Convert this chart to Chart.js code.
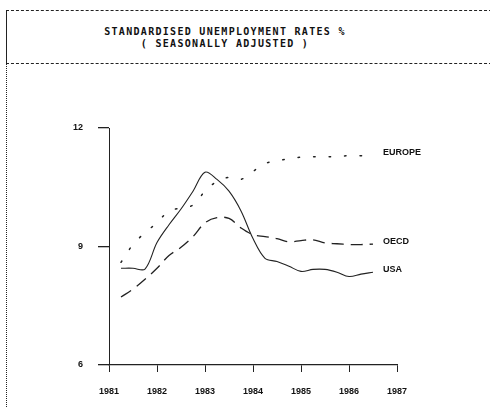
<!DOCTYPE html>
<html>
<head>
<meta charset="utf-8">
<script src="https://cdn.jsdelivr.net/npm/chart.js@4"></script>
<style>
  body { margin: 0; background: #fff; }
  #wrap { position: relative; width: 490px; height: 407px; }
  #frame { position: absolute; left: 6px; top: 10px; width: 490px; height: 52px;
           border-top: 1px dashed #222; border-bottom: 1px dashed #222; border-left: 1px solid #222; }
  #leftline { position: absolute; left: 6px; top: 62px; height: 345px; border-left: 1px dotted #222; }
  .title { position: absolute; left: 0; width: 450px; text-align: center;
           font: bold 10px "DejaVu Sans Mono", monospace; letter-spacing: 1.3px; color: #111; }
  canvas { position: absolute; left: 0; top: 0; }
</style>
</head>
<body>
<div id="wrap">
  <div id="frame"></div>
  <div id="leftline"></div>
  <div class="title" style="top:26px">STANDARDISED UNEMPLOYMENT RATES %</div>
  <div class="title" style="top:38px">( SEASONALLY ADJUSTED )</div>
  <canvas id="chart" width="490" height="407"></canvas>
</div>
<script>
// quarterly points, 1981 Q2 .. 1986 Q3
const quarters = [1981.25, 1981.5, 1981.75, 1982, 1982.25, 1982.5, 1982.75, 1983,
  1983.25, 1983.5, 1983.75, 1984, 1984.25, 1984.5, 1984.75, 1985,
  1985.25, 1985.5, 1985.75, 1986, 1986.25, 1986.5];

const europe = [8.6, 9.05, 9.35, 9.6, 9.9, 9.97, 10.05, 10.4,
  10.65, 10.75, 10.7, 10.9, 11.1, 11.17, 11.22, 11.26,
  11.27, 11.27, 11.28, 11.3, 11.3, 11.3];

const oecd = [7.72, 7.92, 8.17, 8.45, 8.77, 8.98, 9.25, 9.6,
  9.73, 9.71, 9.47, 9.3, 9.25, 9.2, 9.12, 9.15,
  9.17, 9.09, 9.07, 9.05, 9.05, 9.06];

const usa = [8.45, 8.45, 8.43, 9.1, 9.55, 9.95, 10.4, 10.88,
  10.7, 10.4, 9.9, 9.2, 8.7, 8.62, 8.5, 8.37,
  8.42, 8.42, 8.35, 8.24, 8.3, 8.35];

const seriesNames = ['EUROPE', 'OECD', 'USA'];
const yTicks = [6, 9, 12];
const xYears = [1981, 1982, 1983, 1984, 1985, 1986, 1987];

const toPoints = vals => vals.map((v, i) => ({ x: quarters[i], y: v }));

// names written at the end of each line
const endLabels = {
  id: 'endLabels',
  afterDatasetsDraw(chart) {
    const ctx = chart.ctx;
    ctx.save();
    ctx.font = 'bold 9px "Liberation Sans", sans-serif';
    ctx.fillStyle = '#111';
    ctx.textBaseline = 'middle';
    chart.data.datasets.forEach((ds, i) => {
      const meta = chart.getDatasetMeta(i);
      const last = meta.data[meta.data.length - 1];
      ctx.fillText(ds.label, last.x + 10, last.y - 3);
    });
    ctx.restore();
  }
};

new Chart(document.getElementById('chart'), {
  type: 'line',
  data: {
    datasets: [
      { label: seriesNames[0], data: toPoints(europe), borderColor: '#222',
        borderWidth: 1.5, borderDash: [1.5, 14], borderCapStyle: 'round' },
      { label: seriesNames[1], data: toPoints(oecd), borderColor: '#222',
        borderWidth: 1.3, borderDash: [12, 7] },
      { label: seriesNames[2], data: toPoints(usa), borderColor: '#222',
        borderWidth: 1.1 }
    ]
  },
  options: {
    responsive: false,
    animation: false,
    layout: { padding: { left: 59, right: 93, top: 128, bottom: 0 } },
    elements: { point: { radius: 0 }, line: { tension: 0.35 } },
    plugins: { legend: { display: false }, tooltip: { enabled: false } },
    scales: {
      x: {
        type: 'linear', min: 1981, max: 1987,
        afterBuildTicks: s => { s.ticks = xYears.map(v => ({ value: v })); },
        afterFit: s => { s.height = 42; },
        grid: { drawOnChartArea: false, tickLength: 7, color: '#222', lineWidth: 1 },
        border: { color: '#222', width: 1.3, dash: [3, 1] },
        ticks: { padding: 14, color: '#111', font: { family: 'Liberation Sans', size: 9, weight: 'bold' },
                 callback: v => String(v), maxRotation: 0 }
      },
      y: {
        min: 6, max: 12,
        afterBuildTicks: s => { s.ticks = yTicks.map(v => ({ value: v })); },
        afterFit: s => { s.width = 50; },
        grid: { drawOnChartArea: false, tickLength: 11, color: '#222', lineWidth: 1.3 },
        border: { color: '#222', width: 1, dash: [1, 2] },
        ticks: { padding: 15, color: '#111', font: { family: 'Liberation Sans', size: 9, weight: 'bold' } }
      }
    }
  },
  plugins: [endLabels]
});
</script>
</body>
</html>
